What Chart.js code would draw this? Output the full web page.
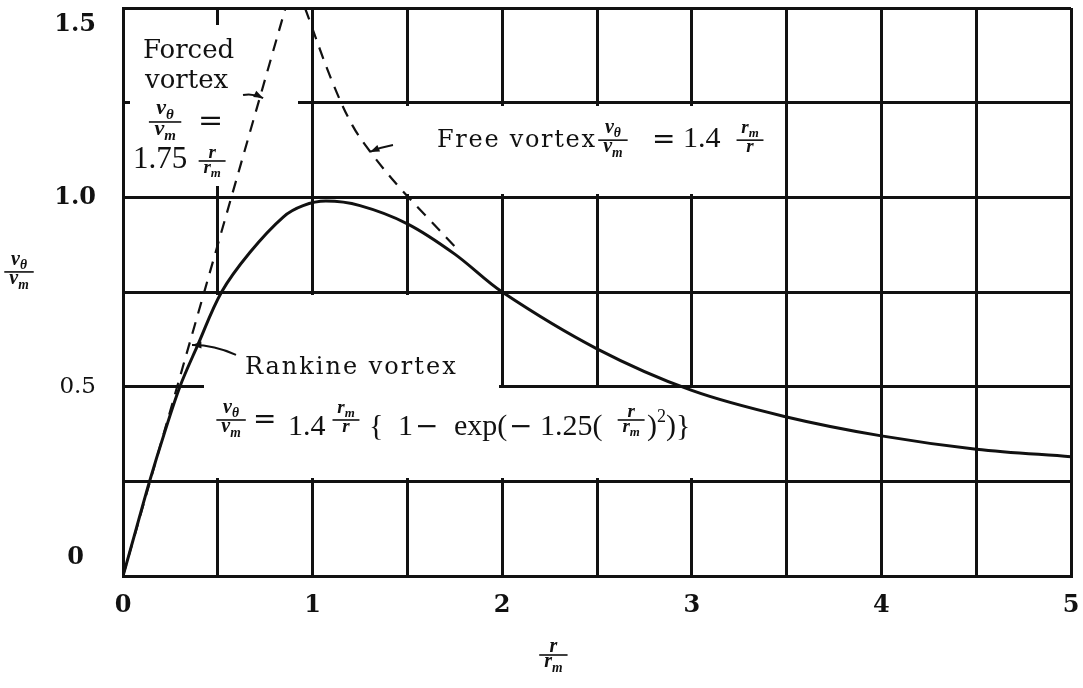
<!DOCTYPE html>
<html>
<head>
<meta charset="utf-8">
<script src="https://cdn.jsdelivr.net/npm/chart.js@4.4.1/dist/chart.umd.min.js"></script>
<style>
  html, body { margin: 0; padding: 0; background: #fff; }
</style>
</head>
<body>
<canvas id="vortexChart" width="1083" height="688"></canvas>
<script>
const rankineR = [0, 0.07, 0.14, 0.22, 0.3, 0.39, 0.52, 0.67, 0.845, 0.95, 1.07, 1.25, 1.5, 1.75, 2.0, 2.5, 3.0, 3.5, 4.0, 4.5, 5.0];
const rankineV = [0, 0.125, 0.25, 0.38, 0.5, 0.605, 0.75, 0.855, 0.948, 0.978, 0.99, 0.978, 0.93, 0.85, 0.75, 0.6, 0.49, 0.42, 0.37, 0.335, 0.315];

// forced vortex (straight line through the origin)
const forcedR = [0, 0.857];
const forcedV = [0, 1.5];

// free vortex branch
const freeR = [0.96, 1.1, 1.21, 1.32, 1.46, 1.6, 1.75];
const freeV = [1.5, 1.31, 1.19, 1.11, 1.025, 0.95, 0.87];

const xTickVals = [0, 1, 2, 3, 4, 5];
const yTickVals = [0, 0.5, 1.0, 1.5];
const yTickText = ["0", "0.5", "1.0", "1.5"];

// spots of the grid left blank for the lettering, in data units [x0, x1, y0, y1]
const blankBoxes = [
  [0.04, 0.92, 1.03, 1.455],
  [1.02, 3.48, 1.01, 1.24],
  [0.02, 1.98, 0.506, 0.74],
  [0.43, 1.98, 0.49, 0.51],
  [0.02, 3.48, 0.26, 0.494]
];

const toPoints = (xs, ys) => xs.map((x, i) => ({ x: x, y: ys[i] }));

const INK = "#111";
const MATH = "Liberation Serif";
const SLAB = "DejaVu Serif";

function it(t, s, dy) { return { t: t, f: `bold italic ${s}px "${MATH}"`, dy: dy || 0 }; }
function rm(t, s, dy, fam) { return { t: t, f: `${s}px "${fam || MATH}"`, dy: dy || 0 }; }
const vTheta = s => [it("v", s), it("θ", s * 0.68, s * 0.22)];
const vM = s => [it("v", s), it("m", s * 0.68, s * 0.22)];
const rOnly = s => [it("r", s)];
const rM = s => [it("r", s), it("m", s * 0.68, s * 0.22)];

function runWidth(ctx, parts) {
  let w = 0;
  for (const p of parts) { ctx.font = p.f; w += ctx.measureText(p.t).width; }
  return w;
}
function drawRun(ctx, x, y, parts) {
  for (const p of parts) {
    ctx.font = p.f;
    ctx.fillText(p.t, x, y + p.dy);
    x += ctx.measureText(p.t).width;
  }
  return x;
}
function drawFrac(ctx, cx, barY, num, den, s) {
  const wn = runWidth(ctx, num), wd = runWidth(ctx, den);
  const w = Math.max(wn, wd) + s * 0.5;
  const drop = Math.max(...num.map(p => p.dy));
  ctx.fillRect(cx - w / 2, barY - 0.8, w, 1.6);
  drawRun(ctx, cx - wn / 2, barY - 3 - drop, num);
  drawRun(ctx, cx - wd / 2, barY + 3 + s * 0.46, den);
  return cx + w / 2;
}
function arrow(ctx, x0, y0, cx, cy, x1, y1) {
  ctx.beginPath();
  ctx.moveTo(x0, y0);
  ctx.quadraticCurveTo(cx, cy, x1, y1);
  ctx.stroke();
  const a = Math.atan2(y1 - cy, x1 - cx);
  ctx.beginPath();
  ctx.moveTo(x1, y1);
  ctx.lineTo(x1 - 10 * Math.cos(a - 0.35), y1 - 10 * Math.sin(a - 0.35));
  ctx.lineTo(x1 - 10 * Math.cos(a + 0.35), y1 - 10 * Math.sin(a + 0.35));
  ctx.closePath();
  ctx.fill();
}

const paperPlugin = {
  id: "paper",
  beforeDatasetsDraw(chart) {
    const { ctx, scales: { x, y } } = chart;
    ctx.save();
    ctx.fillStyle = "#fff";
    for (const b of blankBoxes) {
      const l = Math.floor(x.getPixelForValue(b[0])), r = Math.ceil(x.getPixelForValue(b[1]));
      const t = Math.floor(y.getPixelForValue(b[3])), btm = Math.ceil(y.getPixelForValue(b[2]));
      ctx.fillRect(l, t, r - l, btm - t);
    }
    ctx.restore();
  },
  afterDatasetsDraw(chart) {
    const { ctx, chartArea: area, scales: { x, y } } = chart;
    const P = (dx, dy) => [x.getPixelForValue(dx), y.getPixelForValue(dy)];
    const X = dx => x.getPixelForValue(dx);
    ctx.save();
    ctx.fillStyle = INK;
    ctx.strokeStyle = INK;

    // tick labels
    ctx.textAlign = "center";
    ctx.textBaseline = "middle";
    ctx.font = `bold 24px "${SLAB}"`;
    xTickVals.forEach(v => ctx.fillText(String(v), X(v), area.bottom + 30));
    ctx.textAlign = "right";
    yTickVals.forEach((v, i) => {
      ctx.font = v === 0.5 ? `23px "${SLAB}"` : `bold 24px "${SLAB}"`;
      const py = Math.min(Math.max(y.getPixelForValue(v), area.top + 17), area.bottom - 18);
      ctx.fillText(yTickText[i], v === 0 ? area.left - 39 : area.left - 27, py);
    });
    ctx.textAlign = "left";
    ctx.textBaseline = "alphabetic";

    // axis titles
    drawFrac(ctx, area.left - 104, y.getPixelForValue(0.803), vTheta(20), vM(20), 20);
    drawFrac(ctx, X(2.27), area.bottom + 79, rOnly(20), rM(20), 20);

    // forced vortex note
    let p;
    ctx.font = `26px "${SLAB}"`;
    p = P(0.105, 1.368); ctx.fillText("Forced", p[0], p[1]);
    p = P(0.116, 1.289); ctx.fillText("vortex", p[0], p[1]);
    p = P(0.222, 1.199); drawFrac(ctx, p[0], p[1], vTheta(22), vM(22), 22);
    drawRun(ctx, X(0.396), p[1] + 8, [rm("=", 30, 0, SLAB)]);
    p = P(0.053, 1.077); drawRun(ctx, p[0], p[1], [rm("1.75", 31)]);
    p = P(0.47, 1.096); drawFrac(ctx, p[0], p[1], rOnly(19), rM(19), 19);

    // free vortex note
    ctx.font = `24px "${SLAB}"`;
    ctx.letterSpacing = "1.7px";
    p = P(1.656, 1.133); ctx.fillText("Free vortex", p[0], p[1]);
    ctx.letterSpacing = "0px";
    const base = p[1];
    p = P(2.584, 1.151); drawFrac(ctx, p[0], p[1], vTheta(20), vM(20), 20);
    drawRun(ctx, X(2.79), p[1] + 8, [rm("=", 28, 0, SLAB)]);
    drawRun(ctx, X(2.954), base, [rm("1.4", 30)]);
    drawFrac(ctx, X(3.307), p[1], rM(19), rOnly(19), 19);

    // Rankine vortex note
    ctx.font = `24px "${SLAB}"`;
    ctx.letterSpacing = "2px";
    p = P(0.643, 0.533); ctx.fillText("Rankine vortex", p[0], p[1]);
    ctx.letterSpacing = "0px";
    const rb = y.getPixelForValue(0.372), bar = y.getPixelForValue(0.412);
    drawFrac(ctx, X(0.57), bar, vTheta(20), vM(20), 20);
    drawRun(ctx, X(0.686), bar + 8, [rm("=", 28, 0, SLAB)]);
    drawRun(ctx, X(0.87), rb, [rm("1.4", 30)]);
    drawFrac(ctx, X(1.176), bar, rM(19), rOnly(19), 19);
    drawRun(ctx, X(1.297), rb, [rm("{", 30)]);
    drawRun(ctx, X(1.45), rb, [rm("1", 30)]);
    drawRun(ctx, X(1.54), rb, [rm("−", 28, 0, SLAB)]);
    drawRun(ctx, X(1.746), rb, [rm("exp(", 30)]);
    drawRun(ctx, X(2.036), rb, [rm("−", 28, 0, SLAB)]);
    drawRun(ctx, X(2.2), rb, [rm("1.25(", 30)]);
    drawFrac(ctx, X(2.68), bar, rOnly(19), rM(19), 19);
    drawRun(ctx, X(2.764), rb, [rm(")", 30), rm("2", 18, -13), rm(")}", 30)]);

    // pointer arrows
    ctx.lineWidth = 2;
    let a = P(0.633, 1.27), b = P(0.739, 1.262);
    arrow(ctx, a[0], a[1], (a[0] + b[0]) / 2, a[1] - 2, b[0], b[1]);
    a = P(1.424, 1.138); b = P(1.303, 1.12);
    arrow(ctx, a[0], a[1], (a[0] + b[0]) / 2, a[1] + 2, b[0], b[1]);
    a = P(0.596, 0.584); b = P(0.364, 0.61);
    arrow(ctx, a[0], a[1], a[0] - 22, a[1] - 10, b[0], b[1]);
    ctx.restore();
  }
};

const gridStyle = { color: INK, lineWidth: 3, drawTicks: false };
const ctx = document.getElementById("vortexChart").getContext("2d");
const vortexChart = new Chart(ctx, {
  type: "scatter",
  data: {
    datasets: [
      {
        label: "Rankine vortex",
        data: toPoints(rankineR, rankineV),
        showLine: true,
        borderColor: INK,
        borderWidth: 3,
        pointRadius: 0,
        tension: 0.35
      },
      {
        label: "Forced vortex",
        data: toPoints(forcedR, forcedV),
        showLine: true,
        borderColor: INK,
        borderWidth: 2.2,
        borderDash: [12, 9],
        pointRadius: 0
      },
      {
        label: "Free vortex",
        data: toPoints(freeR, freeV),
        showLine: true,
        borderColor: INK,
        borderWidth: 2.2,
        borderDash: [12, 9],
        pointRadius: 0,
        tension: 0.35
      }
    ]
  },
  options: {
    responsive: false,
    animation: false,
    layout: { padding: { left: 123, right: 12, top: 8, bottom: 112 } },
    plugins: { legend: { display: false }, tooltip: { enabled: false } },
    scales: {
      x: {
        type: "linear", min: 0, max: 5,
        ticks: { display: false, stepSize: 0.5 },
        grid: gridStyle,
        border: { color: INK, width: 3 }
      },
      y: {
        type: "linear", min: 0, max: 1.5,
        ticks: { display: false, stepSize: 0.25 },
        grid: gridStyle,
        border: { color: INK, width: 3 }
      }
    }
  },
  plugins: [paperPlugin]
});
</script>
</body>
</html>
